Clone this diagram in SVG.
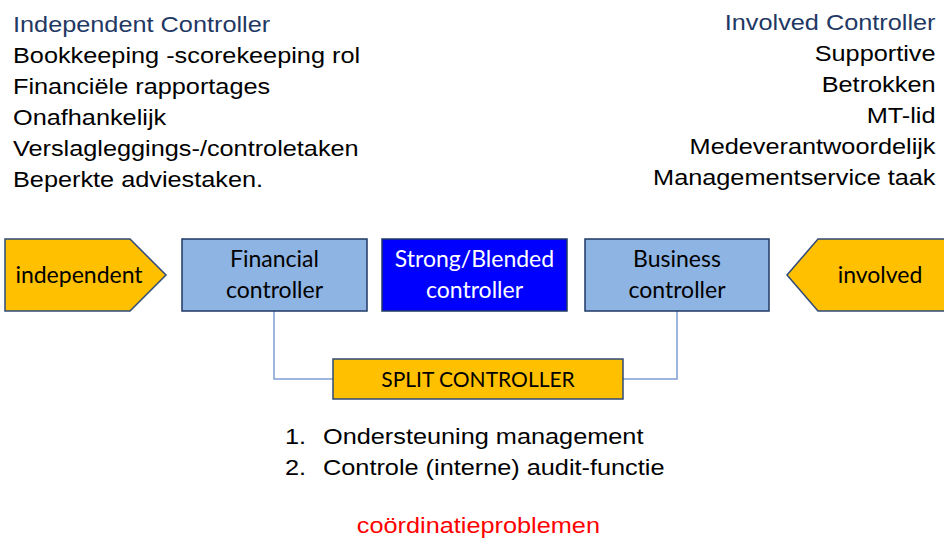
<svg xmlns="http://www.w3.org/2000/svg" width="944" height="539" viewBox="0 0 944 539">
<style>
.hd{font-family:"Liberation Sans",Arial,sans-serif;font-size:22px;fill:#1F3864}
.tx{font-family:"Liberation Sans",Arial,sans-serif;font-size:22px;fill:#000}
.bx{font-family:Lato,"Open Sans",sans-serif;font-size:23px;text-anchor:middle}
.lb{fill:#8EB4E3;stroke:#1F3864;stroke-width:1.5}
.gd{fill:#FFC000;stroke:#2F4A7A;stroke-width:1.5}
.cn{fill:none;stroke:#7F9FD3;stroke-width:1.5}
</style>
<rect width="944" height="539" fill="#fff"/>
<g id="left-text" transform="scale(1.15 1)">
<text class="hd" x="11.3" y="32">Independent Controller</text>
<text class="tx" x="11.3" y="63">Bookkeeping -scorekeeping rol</text>
<text class="tx" x="11.3" y="94">Financiële rapportages</text>
<text class="tx" x="11.3" y="125">Onafhankelijk</text>
<text class="tx" x="11.3" y="156">Verslagleggings-/controletaken</text>
<text class="tx" x="11.3" y="187">Beperkte adviestaken.</text>
</g>
<g id="right-text" text-anchor="end" transform="scale(1.15 1)">
<text class="hd" x="813.5" y="30">Involved Controller</text>
<text class="tx" x="813.5" y="61">Supportive</text>
<text class="tx" x="813.5" y="92">Betrokken</text>
<text class="tx" x="813.5" y="123">MT-lid</text>
<text class="tx" x="813.5" y="154">Medeverantwoordelijk</text>
<text class="tx" x="813.5" y="185">Managementservice taak</text>
</g>
<g id="connectors">
<polyline class="cn" points="274,311 274,379 333,379"/>
<polyline class="cn" points="677,311 677,379 623,379"/>
</g>
<g id="independent">
<polygon class="gd" points="5,239 130,239 166,275 130,311 5,311"/>
<text class="bx" x="79" y="283">independent</text>
</g>
<g id="financial">
<rect class="lb" x="182" y="239" width="185" height="72"/>
<text class="bx" x="274.5" y="267">Financial</text>
<text class="bx" x="274.5" y="298">controller</text>
</g>
<g id="strong">
<rect x="382" y="239" width="185" height="72" fill="#0000FF" stroke="#1F3864" stroke-width="1.5"/>
<text class="bx" x="474.5" y="267" fill="#fff">Strong/Blended</text>
<text class="bx" x="474.5" y="298" fill="#fff">controller</text>
</g>
<g id="business">
<rect class="lb" x="585" y="239" width="184" height="72"/>
<text class="bx" x="677" y="267">Business</text>
<text class="bx" x="677" y="298">controller</text>
</g>
<g id="involved">
<polygon class="gd" points="787,275 818,239 950,239 950,311 818,311"/>
<text class="bx" x="880" y="283">involved</text>
</g>
<g id="split">
<rect class="gd" x="333" y="359" width="290" height="40"/>
<text class="bx" x="478" y="387" style="font-size:21px">SPLIT CONTROLLER</text>
</g>
<g id="list" transform="scale(1.15 1)">
<text class="tx" x="247.8" y="444">1.</text>
<text class="tx" x="280.9" y="444">Ondersteuning management</text>
<text class="tx" x="247.8" y="475">2.</text>
<text class="tx" x="280.9" y="475">Controle (interne) audit-functie</text>
<text x="416" y="533" font-family="Liberation Sans,Arial,sans-serif" font-size="22" fill="#FF0000" text-anchor="middle">coördinatieproblemen</text>
</g>
</svg>
